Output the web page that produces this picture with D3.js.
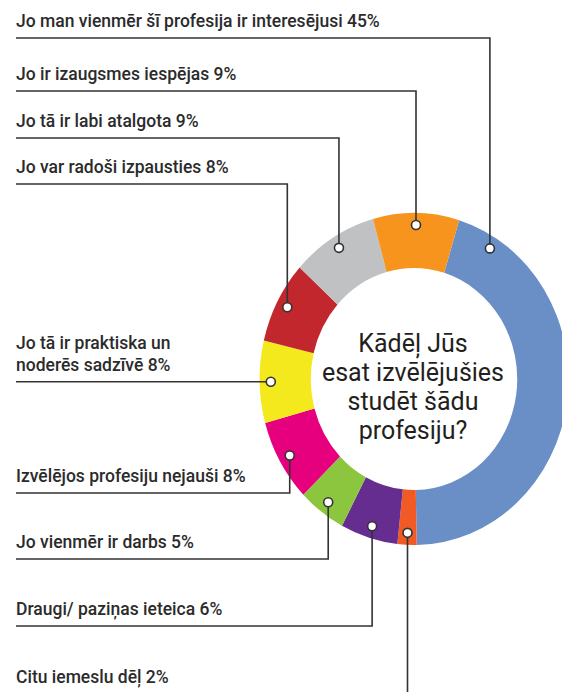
<!DOCTYPE html>
<html>
<head>
<meta charset="utf-8">
<script src="https://cdn.jsdelivr.net/npm/d3@7"></script>
<style>
  body { margin: 0; background: #fff; }
  text { font-family: Roboto, "Open Sans", sans-serif; }
</style>
</head>
<body>
<div id="chart"></div>
<script>
// slices in clockwise order, starting with the big blue one
var categories = [
  "Jo man vienmēr šī profesija ir interesējusi",
  "Citu iemeslu dēļ",
  "Draugi/ paziņas ieteica",
  "Jo vienmēr ir darbs",
  "Izvēlējos profesiju nejauši",
  "Jo tā ir praktiska un\nnoderēs sadzīvē",
  "Jo var radoši izpausties",
  "Jo tā ir labi atalgota",
  "Jo ir izaugsmes iespējas"
];
var values = [45, 2, 6, 5, 8, 8, 8, 9, 9];
var colors = ["#6a8ec6", "#f15a24", "#662d91", "#8cc63f", "#e6007e",
              "#f4e91c", "#c1272d", "#c0c1c3", "#f7941d"];
var titleLines = ["Kādēļ Jūs", "esat izvēlējušies", "studēt šādu", "profesiju?"];

// leader layout: which way the line runs and where the label rule sits
var leaderDir = ["up", "down", "down", "down", "down", "left", "up", "up", "up"];
var leaderY = [38, 694, 626, 559, 493, null, 184, 138, 91];

var width = 562, height = 692;
var cx = 414, cy = 379, rOuter = 166, rInner = 111, sx = 0.93;
var lineLeft = 16;

var svg = d3.select("#chart")
  .append("svg")
  .attr("width", width)
  .attr("height", height);

var data = categories.map(function (c, i) { return { name: c, value: values[i], i: i }; });

var start = 17 * Math.PI / 180;
var pie = d3.pie()
  .value(function (d) { return d.value; })
  .sort(null)
  .startAngle(start)
  .endAngle(start + 2 * Math.PI);

var arcs = pie(data);

var arc = d3.arc().innerRadius(rInner).outerRadius(rOuter);

// ring is slightly squashed horizontally in the original
svg.append("g")
  .attr("transform", "translate(" + cx + "," + cy + ") scale(" + sx + ",1)")
  .selectAll("path")
  .data(arcs)
  .enter()
  .append("path")
  .attr("d", arc)
  .attr("fill", function (d) { return colors[d.data.i]; });

// centre question
svg.append("g")
  .selectAll("text")
  .data(titleLines)
  .enter()
  .append("text")
  .attr("x", cx - 1)
  .attr("y", function (d, i) { return 352 + i * 29; })
  .attr("text-anchor", "middle")
  .attr("font-size", 25)
  .attr("fill", "#231f20")
  .text(function (d) { return d; });

// dot position for each slice
var dotR = 154;
function dotPos(d) {
  var a = (d.startAngle + d.endAngle) / 2;
  if (d.data.i === 0) a = d.startAngle + 15 * Math.PI / 180;
  return [cx + sx * dotR * Math.sin(a), cy - dotR * Math.cos(a)];
}

var leaders = svg.append("g");
arcs.forEach(function (d) {
  var p = dotPos(d);
  var i = d.data.i;
  var ly = leaderDir[i] === "left" ? p[1] : leaderY[i];
  var pts = leaderDir[i] === "left"
    ? [[lineLeft, ly], [p[0], p[1]]]
    : [[lineLeft, ly], [p[0], ly], [p[0], p[1]]];

  leaders.append("path")
    .attr("d", d3.line()(pts))
    .attr("fill", "none")
    .attr("stroke", "#333")
    .attr("stroke-width", 1.6);

  var lines = (categories[i] + " " + values[i] + "%").split("\n");
  leaders.append("g")
    .selectAll("text")
    .data(lines)
    .enter()
    .append("text")
    .attr("x", lineLeft)
    .attr("y", function (t, k) { return ly - 11 - (lines.length - 1 - k) * 22; })
    .attr("font-size", 17.5)
    .attr("font-weight", 500)
    .attr("fill", "#2b2b2b")
    .text(function (t) { return t; });
});

// dots on top of lines
svg.append("g")
  .selectAll("circle")
  .data(arcs)
  .enter()
  .append("circle")
  .attr("cx", function (d) { return dotPos(d)[0]; })
  .attr("cy", function (d) { return dotPos(d)[1]; })
  .attr("r", 4.5)
  .attr("fill", "#fff")
  .attr("stroke", "#333")
  .attr("stroke-width", 1.6);
</script>
</body>
</html>
